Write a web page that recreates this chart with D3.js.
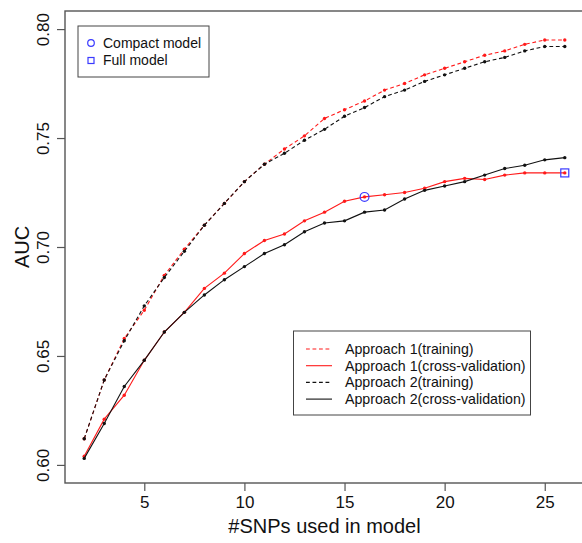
<!DOCTYPE html>
<html>
<head>
<meta charset="utf-8">
<script src="https://cdn.jsdelivr.net/npm/d3@7"></script>
<style>
    body { margin: 0; background: white; }
    svg { font-family: "Liberation Sans", Arial, Helvetica, sans-serif; }
</style>
</head>
<body>
<div id="chart"></div>
<script>
// number of SNPs used in model
var snps = [2, 3, 4, 5, 6, 7, 8, 9, 10, 11, 12, 13, 14, 15, 16, 17, 18, 19, 20, 21, 22, 23, 24, 25, 26];

var approach1Training = [0.612, 0.639, 0.658, 0.671, 0.687, 0.699, 0.710, 0.720, 0.730, 0.738, 0.745, 0.751, 0.759,
    0.763, 0.767, 0.772, 0.775, 0.779, 0.782, 0.785, 0.788, 0.790, 0.793, 0.795, 0.795];
var approach1CV = [0.604, 0.621, 0.632, 0.648, 0.661, 0.670, 0.681, 0.688, 0.697, 0.703, 0.706, 0.712, 0.716,
    0.721, 0.723, 0.724, 0.725, 0.727, 0.730, 0.7315, 0.731, 0.733, 0.734, 0.734, 0.734];
var approach2Training = [0.612, 0.639, 0.657, 0.673, 0.686, 0.698, 0.710, 0.720, 0.730, 0.738, 0.743, 0.749, 0.754,
    0.760, 0.764, 0.769, 0.772, 0.776, 0.779, 0.782, 0.785, 0.787, 0.790, 0.792, 0.792];
var approach2CV = [0.603, 0.619, 0.636, 0.648, 0.661, 0.670, 0.678, 0.685, 0.691, 0.697, 0.701, 0.707, 0.711,
    0.712, 0.716, 0.717, 0.722, 0.726, 0.728, 0.730, 0.733, 0.736, 0.7375, 0.740, 0.741];

var xTicks = [5, 10, 15, 20, 25];
var yTicks = [0.60, 0.65, 0.70, 0.75, 0.80];

var seriesNames = ["Approach 1(training)", "Approach 1(cross-validation)",
    "Approach 2(training)", "Approach 2(cross-validation)"];
var modelNames = ["Compact model", "Full model"];
// the two highlighted models sit on approach 1 cross-validation
var modelSnps = [16, 26];

var width = 582, height = 543;
var plotLeft = 65, plotRight = 584, plotTop = 11, plotBottom = 483;

var series = [
    {name: seriesNames[0], values: approach1Training, color: "#ff1a1a", dash: "3.8,2.7"},
    {name: seriesNames[1], values: approach1CV, color: "#ff1a1a", dash: null},
    {name: seriesNames[2], values: approach2Training, color: "#111111", dash: "3.8,2.7"},
    {name: seriesNames[3], values: approach2CV, color: "#111111", dash: null}
];

var x = d3.scaleLinear().domain([1.04, 26.96]).range([plotLeft, plotRight]);
var y = d3.scaleLinear().domain([0.5917, 0.8083]).range([plotBottom, plotTop]);

var svg = d3.select("#chart").append("svg")
    .attr("width", width).attr("height", height);

// axes
var xAxis = svg.append("g").attr("transform", "translate(0," + plotBottom + ")")
    .call(d3.axisBottom(x).tickValues(xTicks).tickSize(8).tickSizeOuter(0).tickFormat(d3.format("d")));
var yAxis = svg.append("g").attr("transform", "translate(" + plotLeft + ",0)")
    .call(d3.axisLeft(y).tickValues(yTicks).tickSize(8).tickSizeOuter(0).tickFormat(d3.format(".2f")));

[xAxis, yAxis].forEach(function (ax) {
    ax.select(".domain").remove();
    ax.selectAll(".tick line").attr("stroke", "#555").attr("stroke-width", 1.2);
    ax.selectAll("text").attr("fill", "#111").style("font-size", "17px");
});
xAxis.selectAll("text").attr("y", 13).attr("dy", "0.71em");
yAxis.selectAll("text")
    .attr("text-anchor", "middle")
    .attr("transform", "rotate(-90)")
    .attr("x", 0).attr("y", -16).attr("dy", 0);

// plot box
svg.append("rect")
    .attr("x", plotLeft).attr("y", plotTop)
    .attr("width", plotRight - plotLeft).attr("height", plotBottom - plotTop)
    .attr("fill", "none").attr("stroke", "#555").attr("stroke-width", 1.4);

svg.append("text").attr("x", (plotLeft + plotRight) / 2).attr("y", 533)
    .attr("text-anchor", "middle").style("font-size", "20px").attr("fill", "#111")
    .text("#SNPs used in model");
svg.append("text").attr("transform", "translate(29," + ((plotTop + plotBottom) / 2) + ") rotate(-90)")
    .attr("text-anchor", "middle").style("font-size", "20px").attr("fill", "#111")
    .text("AUC");

// lines and points
var line = d3.line()
    .x(function (d, i) { return x(snps[i]); })
    .y(function (d) { return y(d); });

series.forEach(function (s) {
    var g = svg.append("g");
    g.append("path").datum(s.values)
        .attr("d", line)
        .attr("fill", "none")
        .attr("stroke", s.color)
        .attr("stroke-width", 1.1)
        .attr("stroke-dasharray", s.dash);
    g.selectAll("circle").data(s.values).enter().append("circle")
        .attr("cx", function (d, i) { return x(snps[i]); })
        .attr("cy", function (d) { return y(d); })
        .attr("r", 1.7)
        .attr("fill", s.color);
});

// compact / full model markers
var compactIdx = snps.indexOf(modelSnps[0]);
var fullIdx = snps.indexOf(modelSnps[1]);
svg.append("circle")
    .attr("cx", x(modelSnps[0])).attr("cy", y(approach1CV[compactIdx])).attr("r", 4.4)
    .attr("fill", "none").attr("stroke", "#3a3aff").attr("stroke-width", 1.2);
svg.append("rect")
    .attr("x", x(modelSnps[1]) - 4).attr("y", y(approach1CV[fullIdx]) - 4)
    .attr("width", 8).attr("height", 8)
    .attr("fill", "none").attr("stroke", "#3a3aff").attr("stroke-width", 1.2);

// top-left legend
var legend1 = svg.append("g");
legend1.append("rect").attr("x", 78).attr("y", 26).attr("width", 131).attr("height", 51)
    .attr("fill", "white").attr("stroke", "#444").attr("stroke-width", 1);
legend1.append("circle").attr("cx", 91).attr("cy", 43).attr("r", 3.3)
    .attr("fill", "none").attr("stroke", "#3a3aff").attr("stroke-width", 1.2);
legend1.append("rect").attr("x", 88).attr("y", 57.5).attr("width", 6).attr("height", 6)
    .attr("fill", "none").attr("stroke", "#3a3aff").attr("stroke-width", 1.2);
legend1.selectAll("text").data(modelNames).enter().append("text")
    .attr("x", 103).attr("y", function (d, i) { return 43 + i * 17.5; })
    .attr("dy", "0.35em").style("font-size", "14px").attr("fill", "#111")
    .text(function (d) { return d; });

// bottom-right legend
var legend2 = svg.append("g");
legend2.append("rect").attr("x", 293.5).attr("y", 331).attr("width", 237).attr("height", 84)
    .attr("fill", "white").attr("stroke", "#444").attr("stroke-width", 1);
var rows = legend2.selectAll("g.row").data(series).enter().append("g")
    .attr("transform", function (d, i) { return "translate(0," + (349 + i * 16.7) + ")"; });
rows.append("line").attr("x1", 306).attr("x2", 332).attr("y1", 0).attr("y2", 0)
    .attr("stroke", function (d) { return d.color; })
    .attr("stroke-width", 1.1)
    .attr("stroke-dasharray", function (d) { return d.dash; });
rows.append("text").attr("x", 345).attr("dy", "0.35em")
    .style("font-size", "14.2px").attr("fill", "#111")
    .text(function (d) { return d.name; });
</script>
</body>
</html>
